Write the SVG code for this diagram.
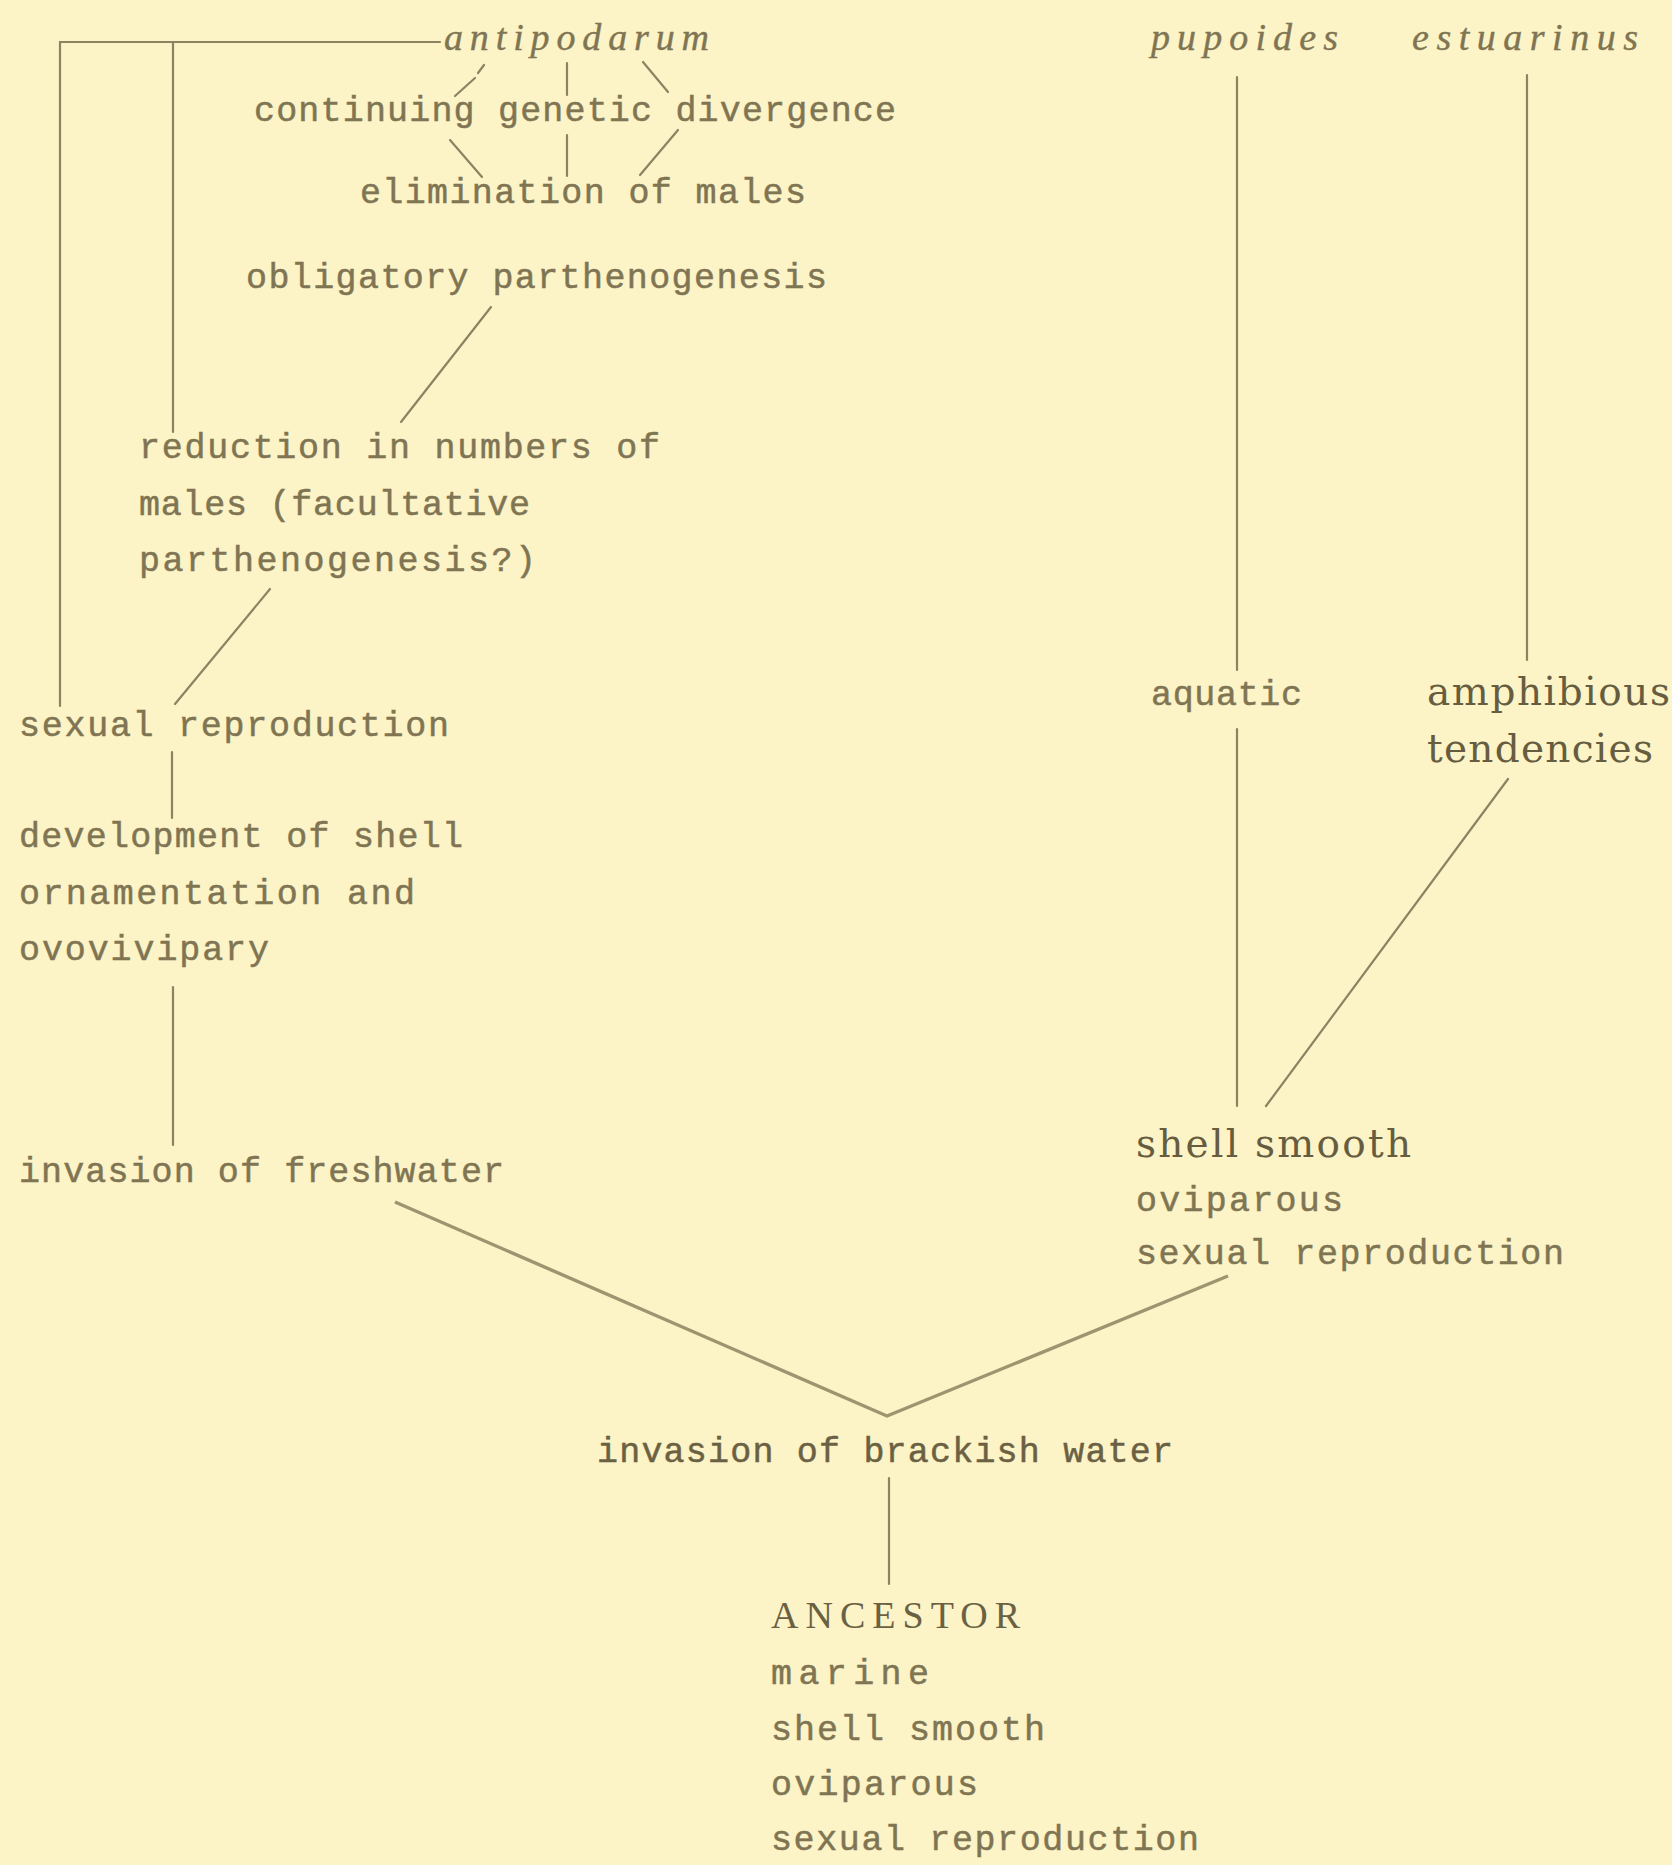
<svg xmlns="http://www.w3.org/2000/svg" width="1672" height="1865" viewBox="0 0 1672 1865">
<style>
.bg{fill:#fcf3c6}
.t{font-family:"Liberation Mono","DejaVu Sans Mono",monospace;font-size:35px;fill:#7f7553;stroke:#7f7553;stroke-width:0.5}
.d{fill:#6a6143;stroke:#6a6143}
.c{font-family:"Liberation Serif","DejaVu Serif",serif;font-size:38px;fill:#6a6143}
.s{font-family:"DejaVu Serif","Liberation Serif",serif;font-size:39px;fill:#665d40}
.i{font-family:"Liberation Serif","DejaVu Serif",serif;font-style:italic;font-size:38px;fill:#7f7553;stroke:#7f7553;stroke-width:0.4}
.ln{fill:none;stroke:#8c8363;stroke-width:2.2;stroke-linecap:round}
.v{fill:none;stroke:#9d9470;stroke-width:3.4;stroke-linejoin:miter}
</style>
<rect class="bg" x="0" y="0" width="1672" height="1865"/>
<g id="connectors">
<path class="ln" d="M60 42 H440"/>
<path class="ln" d="M60 42 V706"/>
<path class="ln" d="M173 42 V432"/>
<path class="ln" d="M484 65 L478 73"/>
<path class="ln" d="M475 78 L455 96"/>
<path class="ln" d="M450 140 L482 177"/>
<path class="ln" d="M567 63 V95"/>
<path class="ln" d="M567 135 V176"/>
<path class="ln" d="M643 62 L668 92"/>
<path class="ln" d="M678 130 L640 175"/>
<path class="ln" d="M491 307 L401 422"/>
<path class="ln" d="M270 589 L175 704"/>
<path class="ln" d="M172 752 V818"/>
<path class="ln" d="M173 987 V1145"/>
<path class="v" d="M395 1202 L887 1416 L1228 1276"/>
<path class="ln" d="M889 1478 V1584"/>
<path class="ln" d="M1237 77 V670"/>
<path class="ln" d="M1527 75 V660"/>
<path class="ln" d="M1237 729 V1106"/>
<path class="ln" d="M1508 779 L1266 1106"/>
</g>
<g id="antipodarum"><text class="i" x="444" y="50" textLength="265">antipodarum</text></g>
<g id="continuing"><text class="t" x="254" y="121" textLength="642">continuing genetic divergence</text></g>
<g id="elimination"><text class="t" x="360" y="203" textLength="446">elimination of males</text></g>
<g id="obligatory"><text class="t" x="246" y="288" textLength="581">obligatory parthenogenesis</text></g>
<g id="reduction">
<text class="t" x="139" y="458" textLength="521">reduction in numbers of</text>
<text class="t" x="139" y="515" textLength="391">males (facultative</text>
<text class="t" x="139" y="571" textLength="397">parthenogenesis?)</text>
</g>
<g id="sexual-left"><text class="t" x="19" y="736" textLength="430">sexual reproduction</text></g>
<g id="development">
<text class="t" x="19" y="847" textLength="444">development of shell</text>
<text class="t" x="19" y="904" textLength="396">ornamentation and</text>
<text class="t" x="19" y="960" textLength="250">ovovivipary</text>
</g>
<g id="freshwater"><text class="t" x="19" y="1182" textLength="485">invasion of freshwater</text></g>
<g id="brackish"><text class="t d" x="597" y="1462" textLength="576">invasion of brackish water</text></g>
<g id="ancestor">
<text class="c" x="771" y="1628" textLength="249">ANCESTOR</text>
<text class="t" x="771" y="1684" textLength="158">marine</text>
<text class="t" x="771" y="1740" textLength="274">shell smooth</text>
<text class="t" x="771" y="1795" textLength="207">oviparous</text>
<text class="t" x="771" y="1850" textLength="428">sexual reproduction</text>
</g>
<g id="pupoides"><text class="i" x="1151" y="50" textLength="187">pupoides</text></g>
<g id="estuarinus"><text class="i" x="1412" y="50" textLength="226">estuarinus</text></g>
<g id="aquatic"><text class="t" x="1151" y="705" textLength="151">aquatic</text></g>
<g id="amphibious">
<text class="s" x="1427" y="705" textLength="243">amphibious</text>
<text class="s" x="1427" y="762" textLength="226">tendencies</text>
</g>
<g id="shell-smooth-right">
<text class="s" x="1136" y="1157" textLength="275">shell smooth</text>
<text class="t" x="1136" y="1211" textLength="207">oviparous</text>
<text class="t" x="1136" y="1264" textLength="428">sexual reproduction</text>
</g>
</svg>
